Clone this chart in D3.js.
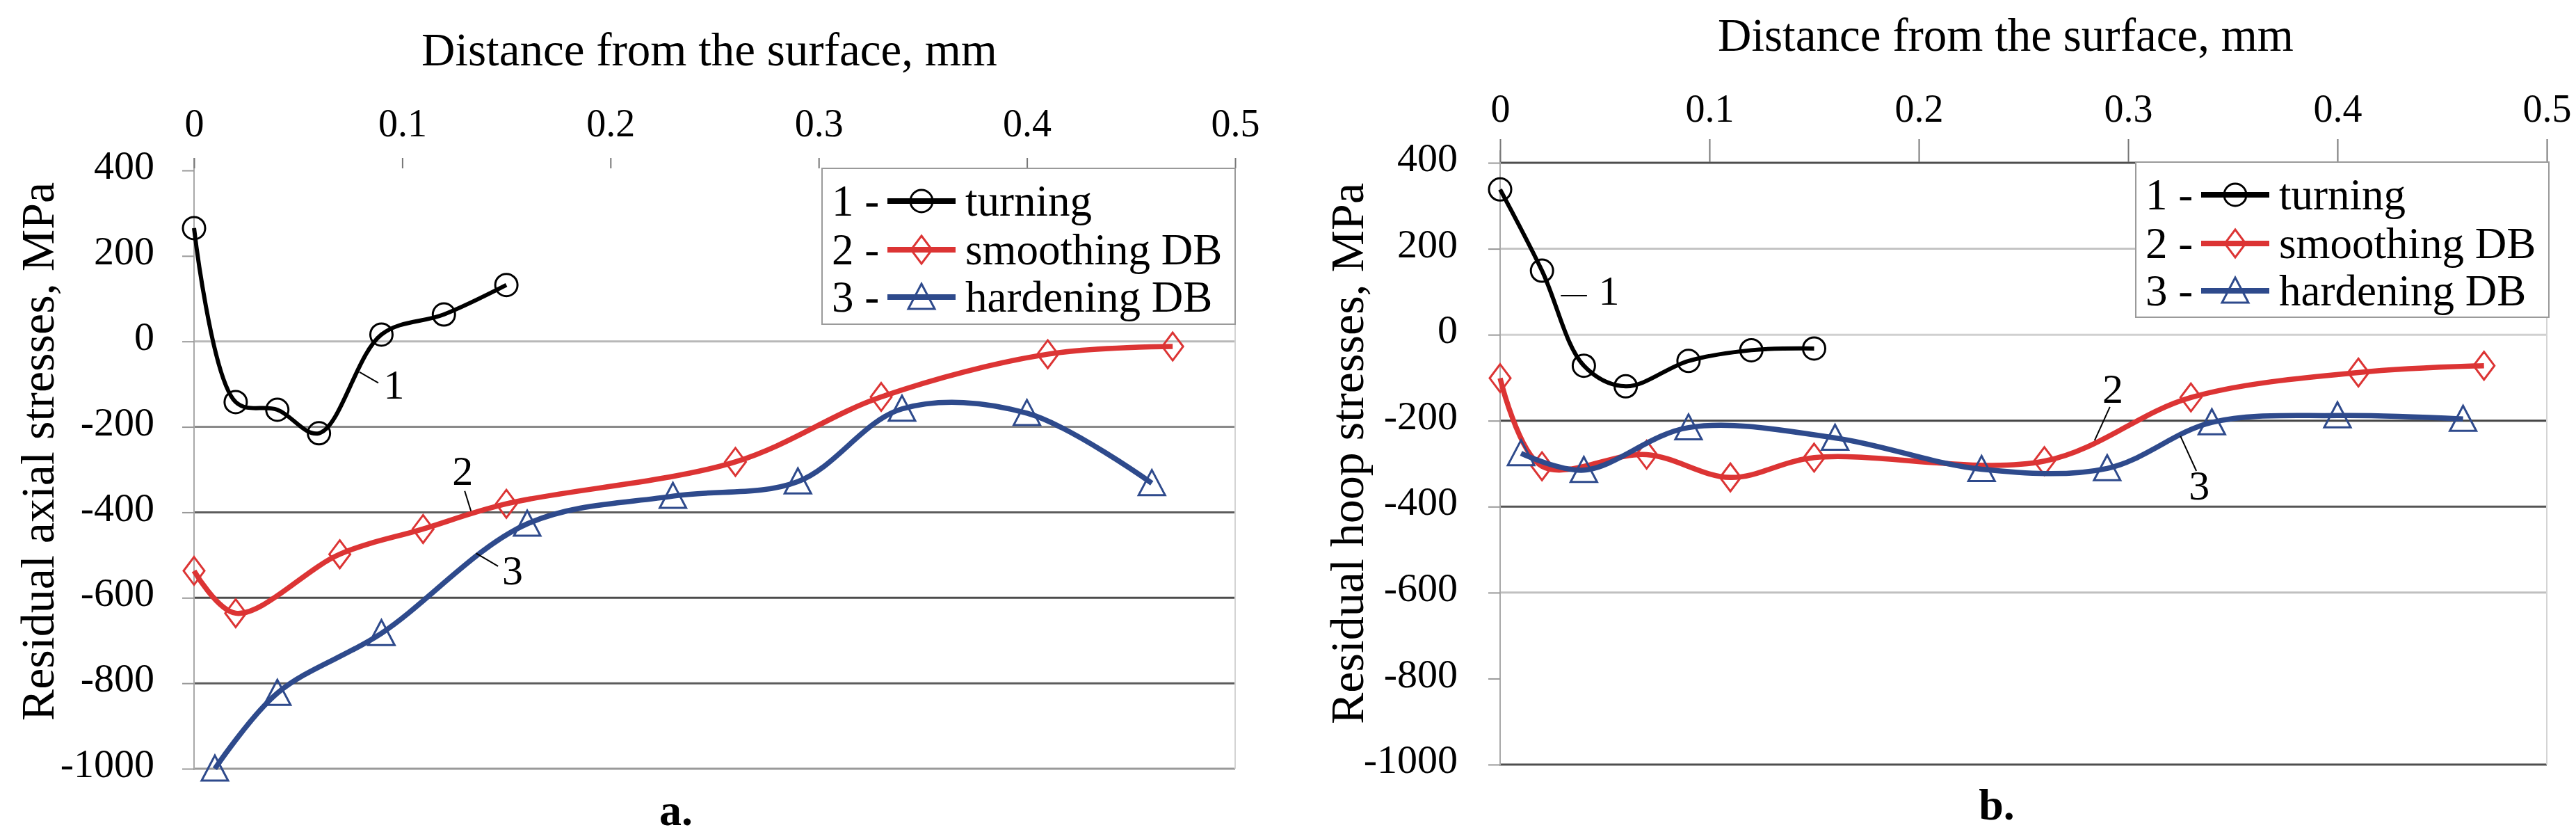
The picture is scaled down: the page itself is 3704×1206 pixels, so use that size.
<!DOCTYPE html>
<html>
<head>
<meta charset="utf-8">
<script src="https://cdn.jsdelivr.net/npm/d3@7"></script>
<style>
  body { margin: 0; background: #fff; }
  svg { display: block; }
  text { font-family: 'Liberation Serif', 'DejaVu Serif', 'Times New Roman', serif; fill: #000; }
</style>
</head>
<body>
<svg id="chart" width="3704" height="1206"></svg>
<script>
// ---- data ----
const depthTicks = [0, 0.1, 0.2, 0.3, 0.4, 0.5];
const stressTicks = [400, 200, 0, -200, -400, -600, -800, -1000];
const seriesNames = ["turning", "smoothing DB", "hardening DB"];

const turningDepth = [0, 0.02, 0.04, 0.06, 0.09, 0.12, 0.15];
const smoothingDepth = [0, 0.02, 0.07, 0.11, 0.15, 0.26, 0.33, 0.41, 0.47];
const hardeningDepth = [0.01, 0.04, 0.09, 0.16, 0.23, 0.29, 0.34, 0.40, 0.46];

// a. axial
const axialTurning = [265, -142, -160, -215, 16, 63, 132];
const axialSmoothing = [-537, -636, -498, -439, -380, -282, -130, -30, -12];
const axialHardening = [-1000, -823, -683, -427, -362, -328, -158, -168, -332];

// b. hoop
const hoopTurning = [338, 149, -72, -120, -61, -36, -32];
const hoopSmoothing = [-101, -306, -279, -332, -286, -294, -146, -88, -72];
const hoopHardening = [-276, -315, -216, -240, -313, -311, -204, -188, -196];

// curve numbers with their leader lines, in data units
const axialNotes = [
  { n: "1", x: 0.096, y: -99, from: [0.0795, -72], to: [0.0885, -97] },
  { n: "2", x: 0.129, y: -301, from: [0.130, -350], to: [0.133, -397] },
  { n: "3", x: 0.153, y: -534, from: [0.1355, -496], to: [0.146, -526] }
];
const hoopNotes = [
  { n: "1", x: 0.052, y: 104, from: [0.029, 91], to: [0.0415, 91] },
  { n: "2", x: 0.2927, y: -125, from: [0.2913, -168], to: [0.284, -246] },
  { n: "3", x: 0.334, y: -350, from: [0.325, -236], to: [0.3326, -317] }
];

// ---- styles ----
const serif = "'Liberation Serif', 'DejaVu Serif', 'Times New Roman', serif";
const colors = ["#000000", "#dc3434", "#2e4a8c"];
const lineWidths = [6, 7.5, 7.5];
const markers = ["circle", "diamond", "triangle"];

const panels = [
  {
    tag: "a.", tagX: 972, tagY: 1186,
    yTitle: "Residual axial stresses, MPa", yTitleX: 53, yTitleY: 649,
    xTitleX: 1020, xTitleY: 94,
    left: 279, right: 1776, top: 245, bottom: 1105,
    xAxisY: 242, xTickLen: 15, xPad: 31,
    yLabelGap: 40,
    grid: ["none", "none", "#b8b8b8", "#8a8a8a", "#5c5c5c", "#4c4c4c", "#5c5c5c", "#9a9a9a"],
    legend: { x: 1182, y: 242, w: 594, h: 224 },
    values: [axialTurning, axialSmoothing, axialHardening],
    notes: axialNotes
  },
  {
    tag: "b.", tagX: 2871, tagY: 1178,
    yTitle: "Residual hoop stresses, MPa", yTitleX: 1936, yTitleY: 652,
    xTitleX: 2884, xTitleY: 73,
    left: 2157, right: 3662, top: 234, bottom: 1099,
    xAxisY: 233, xTickLen: 33, xPad: 25,
    yLabelGap: 44,
    grid: ["#4e4e4e", "#c4c4c4", "#d0d0d0", "#444444", "#555555", "#c0c0c0", "none", "#4e4e4e"],
    legend: { x: 3071, y: 233, w: 594, h: 223 },
    values: [hoopTurning, hoopSmoothing, hoopHardening],
    notes: hoopNotes
  }
];

const depths = [turningDepth, smoothingDepth, hardeningDepth];

const svg = d3.select("#chart");
svg.append("rect").attr("width", 3704).attr("height", 1206).attr("fill", "#fff");

function drawMarker(g, type, cx, cy, color) {
  if (type === "circle") {
    g.append("circle").attr("cx", cx).attr("cy", cy).attr("r", 16)
      .attr("fill", "none").attr("stroke", color).attr("stroke-width", 3);
  } else if (type === "diamond") {
    g.append("path")
      .attr("d", `M${cx},${cy - 20}L${cx + 15},${cy}L${cx},${cy + 20}L${cx - 15},${cy}Z`)
      .attr("fill", "none").attr("stroke", color).attr("stroke-width", 3);
  } else {
    g.append("path")
      .attr("d", `M${cx},${cy - 19}L${cx + 19},${cy + 17}L${cx - 19},${cy + 17}Z`)
      .attr("fill", "none").attr("stroke", color).attr("stroke-width", 3);
  }
}

panels.forEach(p => {
  const g = svg.append("g").style("font-family", serif);

  const x = d3.scaleLinear().domain([0, 0.5]).range([p.left, p.right]);
  const y = d3.scaleLinear().domain([-1000, 400]).range([p.bottom, p.top]);

  // gridlines
  g.append("g").selectAll("line")
    .data(stressTicks)
    .join("line")
    .attr("x1", p.left).attr("x2", p.right)
    .attr("y1", d => y(d)).attr("y2", d => y(d))
    .attr("stroke", (d, i) => p.grid[i])
    .attr("stroke-width", 3);

  // frame lines (left axis, right edge)
  g.append("line").attr("x1", p.left).attr("x2", p.left)
    .attr("y1", p.top - 18).attr("y2", p.bottom + 2)
    .attr("stroke", "#a8a8a8").attr("stroke-width", 2);
  g.append("line").attr("x1", p.right).attr("x2", p.right)
    .attr("y1", p.top).attr("y2", p.bottom)
    .attr("stroke", "#d4d4d4").attr("stroke-width", 2);

  // top x axis
  const xAxis = g.append("g")
    .attr("transform", `translate(0,${p.xAxisY})`)
    .call(d3.axisTop(x).tickValues(depthTicks).tickSize(p.xTickLen).tickPadding(p.xPad)
      .tickFormat(d => d === 0 ? "0" : d3.format(".1f")(d)));
  xAxis.attr("font-family", null).attr("font-size", null);
  xAxis.select(".domain").remove();
  xAxis.selectAll(".tick line").attr("stroke", "#777").attr("stroke-width", 2);
  xAxis.selectAll(".tick text")
    .style("font-family", serif).attr("font-size", 56);

  // left y axis
  const yAxis = g.append("g")
    .attr("transform", `translate(${p.left},0)`)
    .call(d3.axisLeft(y).tickValues(stressTicks).tickSize(17).tickPadding(p.yLabelGap)
      .tickFormat(d => String(d)));
  yAxis.attr("font-family", null).attr("font-size", null);
  yAxis.select(".domain").remove();
  yAxis.selectAll(".tick line").attr("stroke", "#999").attr("stroke-width", 2);
  yAxis.selectAll(".tick text")
    .style("font-family", serif).attr("font-size", 58).attr("dy", "0.2em");

  // titles
  g.append("text")
    .attr("x", p.xTitleX).attr("y", p.xTitleY)
    .attr("text-anchor", "middle").attr("font-size", 67)
    .text("Distance from the surface, mm");

  g.append("text")
    .attr("transform", `translate(${p.yTitleX},${p.yTitleY}) rotate(-90)`)
    .attr("text-anchor", "middle").attr("dy", "0.35em")
    .attr("font-size", 68)
    .text(p.yTitle);

  g.append("text")
    .attr("x", p.tagX).attr("y", p.tagY)
    .attr("text-anchor", "middle").attr("font-size", 64).attr("font-weight", "bold")
    .text(p.tag);

  // series
  const line = d3.line()
    .x(d => x(d[0]))
    .y(d => y(d[1]))
    .curve(d3.curveCatmullRom.alpha(0.5));

  p.values.forEach((vals, i) => {
    const pts = vals.map((v, j) => [depths[i][j], v]);
    g.append("path")
      .datum(pts)
      .attr("d", line)
      .attr("fill", "none")
      .attr("stroke", colors[i])
      .attr("stroke-width", lineWidths[i])
      .attr("stroke-linejoin", "round");
    const mg = g.append("g");
    pts.forEach(d => drawMarker(mg, markers[i], x(d[0]), y(d[1]), colors[i]));
  });

  // curve numbers
  p.notes.forEach(nt => {
    g.append("line")
      .attr("x1", x(nt.from[0])).attr("y1", y(nt.from[1]))
      .attr("x2", x(nt.to[0])).attr("y2", y(nt.to[1]))
      .attr("stroke", "#000").attr("stroke-width", 2);
    g.append("text")
      .attr("x", x(nt.x)).attr("y", y(nt.y))
      .attr("dy", "0.35em").attr("text-anchor", "middle")
      .attr("font-size", 60)
      .text(nt.n);
  });

  // legend
  const lg = g.append("g").attr("transform", `translate(${p.legend.x},${p.legend.y})`);
  lg.append("rect")
    .attr("width", p.legend.w).attr("height", p.legend.h)
    .attr("fill", "#fff").attr("stroke", "#9a9a9a").attr("stroke-width", 2);
  const rowY = [47, 117, 185];
  seriesNames.forEach((name, i) => {
    const ry = rowY[i];
    lg.append("text").attr("x", 14).attr("y", ry).attr("dy", "0.33em")
      .attr("font-size", 63).text(`${i + 1} -`);
    lg.append("line").attr("x1", 94).attr("x2", 192).attr("y1", ry).attr("y2", ry)
      .attr("stroke", colors[i]).attr("stroke-width", 8);
    drawMarker(lg, markers[i], 143, ry, colors[i]);
    lg.append("text").attr("x", 206).attr("y", ry).attr("dy", "0.33em")
      .attr("font-size", 63).text(name);
  });
});
</script>
</body>
</html>
